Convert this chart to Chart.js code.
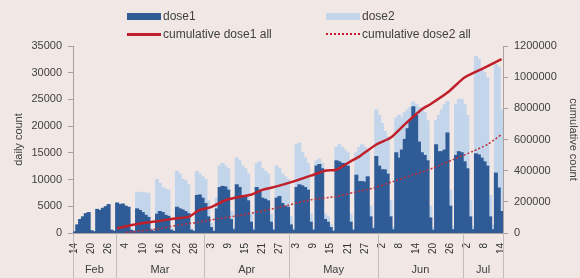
<!DOCTYPE html>
<html>
<head>
<meta charset="utf-8">
<script src="https://cdn.jsdelivr.net/npm/chart.js@4"></script>
<style>
  html, body { margin: 0; padding: 0; background: #f1e8e6; }
  #wrap { position: relative; width: 580px; height: 278px; }
  #legend { position: absolute; left: 0; top: 0; width: 580px; height: 44px;
            font: 12px "Liberation Sans", sans-serif; color: #404040; }
  .item { position: absolute; height: 14px; line-height: 14px; white-space: nowrap; }
  .sw { position: absolute; left: 0; width: 34px; }
  .item span.t { position: absolute; left: 36px; top: 0; }
</style>
</head>
<body>
<div id="wrap">
  <canvas id="c" width="580" height="278"></canvas>
  <div id="legend">
    <div class="item" style="left:127px;top:9px"><div class="sw" style="top:4px;height:7px;background:#2f5b96"></div><span class="t">dose1</span></div>
    <div class="item" style="left:326px;top:9px"><div class="sw" style="top:4px;height:7px;background:#c3d5ea"></div><span class="t">dose2</span></div>
    <div class="item" style="left:127px;top:27px"><div class="sw" style="top:6px;height:3px;background:#c0202a"></div><span class="t">cumulative dose1 all</span></div>
    <div class="item" style="left:326px;top:27px"><div class="sw" style="top:6px;height:0;border-top:2px dotted #c0202a"></div><span class="t">cumulative dose2 all</span></div>
  </div>
</div>
<script>
// ===== Categories: daily, 14 Feb - 14 Jul =====
const months = ['Feb', 'Mar', 'Apr', 'May', 'Jun', 'Jul'];
const monthFirstDay = [14, 1, 1, 1, 1, 1];
const monthLastDay = [28, 31, 30, 31, 30, 14];

const labels = [];
months.forEach((m, k) => {
    for (let d = monthFirstDay[k]; d <= monthLastDay[k]; d++) labels.push(m + ' ' + d);
});

// ===== Daily counts (one row = one week, starting Sunday) =====
const dose1 = [
    200, 1500, 2500, 3000, 3600, 3800, 400,
    200, 4400, 4200, 4600, 4900, 5300, 500,
    300, 5600, 5300, 5400, 5000, 4800, 500,
    300, 4500, 4200, 3800, 3300, 2900, 500,
    300, 3500, 4000, 3800, 3300, 3100, 500,
    300, 4800, 4500, 4300, 4000, 3600, 500,
    300, 7000, 7100, 6500, 5500, 3000, 1000,
    300, 4500, 8500, 8700, 8600, 8000, 2500,
    600, 9000, 8500, 7000, 6800, 6000, 2000,
    500, 8500, 8000, 6500, 6300, 6000, 2000,
    500, 6500, 6800, 5500, 5000, 4800, 1500,
    500, 8500, 9000, 8800, 8500, 8000, 2000,
    500, 12500, 12800, 12000, 2500, 2000, 1000,
    300, 13500, 13300, 13000, 13000, 12500, 2000,
    500, 10800, 9600, 9600, 9500, 10500, 3000,
    800, 14300, 12500, 11800, 11800, 11000, 3000,
    600, 15000, 14000, 15500, 17500, 19500, 21000,
    23600, 22000, 17000, 15000, 14500, 13500, 2800,
    500, 16500, 15200, 15200, 15500, 18700, 5000,
    600, 14500, 15200, 15000, 13300, 12000, 3000,
    600, 14800, 14600, 14000, 13300, 12500, 3000,
    600, 11200, 8400, 4000
];
const dose2 = [
    0, 0, 0, 0, 0, 0, 0,
    0, 0, 0, 0, 0, 0, 0,
    0, 0, 0, 0, 0, 0, 0,
    0, 3100, 3400, 3700, 4200, 4500, 300,
    0, 6500, 5300, 4700, 4900, 4900, 300,
    0, 6700, 6500, 5700, 5800, 5400, 300,
    0, 4500, 3900, 4000, 4500, 3000, 800,
    0, 2000, 4000, 4300, 3900, 4000, 1500,
    300, 5000, 5000, 5500, 5200, 5000, 1500,
    300, 4500, 5300, 5500, 5200, 5000, 1500,
    300, 6000, 5200, 5500, 5500, 5200, 1500,
    300, 8000, 7800, 6200, 5500, 5000, 1500,
    300, 1000, 1000, 1000, 1000, 1000, 500,
    200, 2500, 3200, 3000, 2500, 2500, 1500,
    300, 4200, 6400, 6900, 6500, 5000, 2000,
    500, 8700, 9500, 8700, 7200, 7000, 3000,
    500, 6500, 8000, 6000, 5000, 3500, 2500,
    900, 2000, 6500, 8000, 8000, 7500, 2200,
    500, 4500, 6800, 7800, 8500, 5900, 3000,
    600, 9500, 9800, 10000, 10700, 10000, 3000,
    600, 18200, 17900, 16500, 16700, 16500, 4000,
    900, 20300, 22600, 19000
];

// ===== Cumulative counts (right axis), read at these dates =====
const cum1Dates = ['Mar 1', 'Mar 8', 'Mar 15', 'Mar 22', 'Mar 26', 'Mar 30', 'Apr 3', 'Apr 8', 'Apr 11',
    'Apr 17', 'Apr 21', 'Apr 26', 'May 2', 'May 8', 'May 13', 'May 17', 'May 22', 'May 25', 'May 31',
    'Jun 5', 'Jun 10', 'Jun 16', 'Jun 19', 'Jun 25', 'Jul 1', 'Jul 7', 'Jul 14'];
const cum1Values = [30000, 58000, 75000, 95000, 103000, 148000, 166000, 210000, 225000,
    245000, 277000, 299000, 331000, 368000, 400000, 406000, 460000, 490000, 568000,
    611000, 697000, 794000, 826000, 901000, 998000, 1052000, 1116000];

const cum2Dates = ['Mar 4', 'Mar 15', 'Mar 22', 'Mar 29', 'Apr 3', 'Apr 14', 'Apr 26', 'May 8', 'May 17',
    'May 23', 'May 30', 'Jun 6', 'Jun 13', 'Jun 20', 'Jun 27', 'Jul 4', 'Jul 9', 'Jul 14'];
const cum2Values = [3000, 25000, 50000, 68000, 84000, 116000, 161000, 213000, 234000,
    260000, 288000, 331000, 374000, 417000, 471000, 525000, 568000, 632000];

// ===== Axis ticks =====
const leftTicks = { min: 0, max: 35000, step: 5000 };
const rightTicks = { min: 0, max: 1200000, step: 200000 };
const labelEvery = 6;

const FONT = '"Liberation Sans", sans-serif';
const AXIS = '#a8a0a0';

// ===== Month row under the day ticks =====
const monthRow = {
    id: 'monthRow',
    afterDraw(chart) {
        const xs = chart.scales.x;
        const ctx = chart.ctx;
        const step = xs.getPixelForValue(1) - xs.getPixelForValue(0);
        ctx.save();
        ctx.strokeStyle = '#c4bcbb';
        ctx.lineWidth = 1;
        ctx.fillStyle = '#404040';
        ctx.font = '11px ' + FONT;
        ctx.textAlign = 'center';
        ctx.textBaseline = 'middle';
        let start = 0;
        months.forEach((m, k) => {
            const n = monthLastDay[k] - monthFirstDay[k] + 1;
            const x0 = xs.getPixelForValue(start) - step / 2;
            const x1 = xs.getPixelForValue(start + n - 1) + step / 2;
            [x0, x1].forEach(x => {
                ctx.beginPath();
                ctx.moveTo(Math.round(x) + 0.5, xs.top);
                ctx.lineTo(Math.round(x) + 0.5, xs.bottom);
                ctx.stroke();
            });
            ctx.fillText(m, (x0 + x1) / 2, 270);
            start += n;
        });
        ctx.restore();
    }
};

const plainNumber = v => String(v);

new Chart(document.getElementById('c').getContext('2d'), {
    type: 'bar',
    data: {
        labels,
        datasets: [
            {
                type: 'line', label: 'cumulative dose1 all', yAxisID: 'y2', order: 0,
                data: cum1Dates.map((d, i) => ({ x: d, y: cum1Values[i] })),
                borderColor: '#c0202a', borderWidth: 2.5, pointRadius: 0, tension: 0.2, fill: false
            },
            {
                type: 'line', label: 'cumulative dose2 all', yAxisID: 'y2', order: 0,
                data: cum2Dates.map((d, i) => ({ x: d, y: cum2Values[i] })),
                borderColor: '#c0303a', borderWidth: 1.5, borderDash: [2, 2], pointRadius: 0, tension: 0.2, fill: false
            },
            {
                label: 'dose1', data: dose1, backgroundColor: '#2f5b96', order: 1,
                barPercentage: 1, categoryPercentage: 1, inflateAmount: 0.6, stack: 's'
            },
            {
                label: 'dose2', data: dose2, backgroundColor: '#c3d5ea', order: 1,
                barPercentage: 1, categoryPercentage: 1, inflateAmount: 0.6, stack: 's'
            }
        ]
    },
    options: {
        responsive: false,
        animation: false,
        layout: { padding: { top: 46, left: 0, right: 0, bottom: 0 } },
        plugins: { legend: { display: false }, tooltip: { enabled: false } },
        scales: {
            x: {
                stacked: true,
                afterFit(s) { s.height = 45; },
                grid: { display: false },
                border: { display: true, color: AXIS },
                ticks: {
                    autoSkip: false, minRotation: 90, maxRotation: 90, padding: 2,
                    color: '#333', font: { family: FONT, size: 10 },
                    callback(val, i) {
                        return i % labelEvery === 0 ? this.getLabelForValue(val).split(' ')[1] : null;
                    }
                }
            },
            y: {
                stacked: true, position: 'left',
                min: leftTicks.min, max: leftTicks.max,
                afterFit(s) { s.width = 73; },
                grid: { drawOnChartArea: false, tickLength: 5, color: AXIS },
                border: { display: true, color: AXIS },
                ticks: { stepSize: leftTicks.step, padding: 6, color: '#404040', font: { family: FONT, size: 11 }, callback: plainNumber },
                title: { display: true, text: 'daily count', color: '#404040', font: { family: FONT, size: 11 }, padding: { top: 12 } }
            },
            y2: {
                position: 'right',
                min: rightTicks.min, max: rightTicks.max,
                afterFit(s) { s.width = 77; },
                grid: { drawOnChartArea: false, tickLength: 5, color: AXIS },
                border: { display: true, color: AXIS },
                ticks: { stepSize: rightTicks.step, padding: 6, color: '#404040', font: { family: FONT, size: 11 }, callback: plainNumber },
                title: { display: true, text: 'cumulative count', color: '#404040', font: { family: FONT, size: 11 }, padding: { top: 0 } }
            }
        }
    },
    plugins: [monthRow]
});
</script>
</body>
</html>
